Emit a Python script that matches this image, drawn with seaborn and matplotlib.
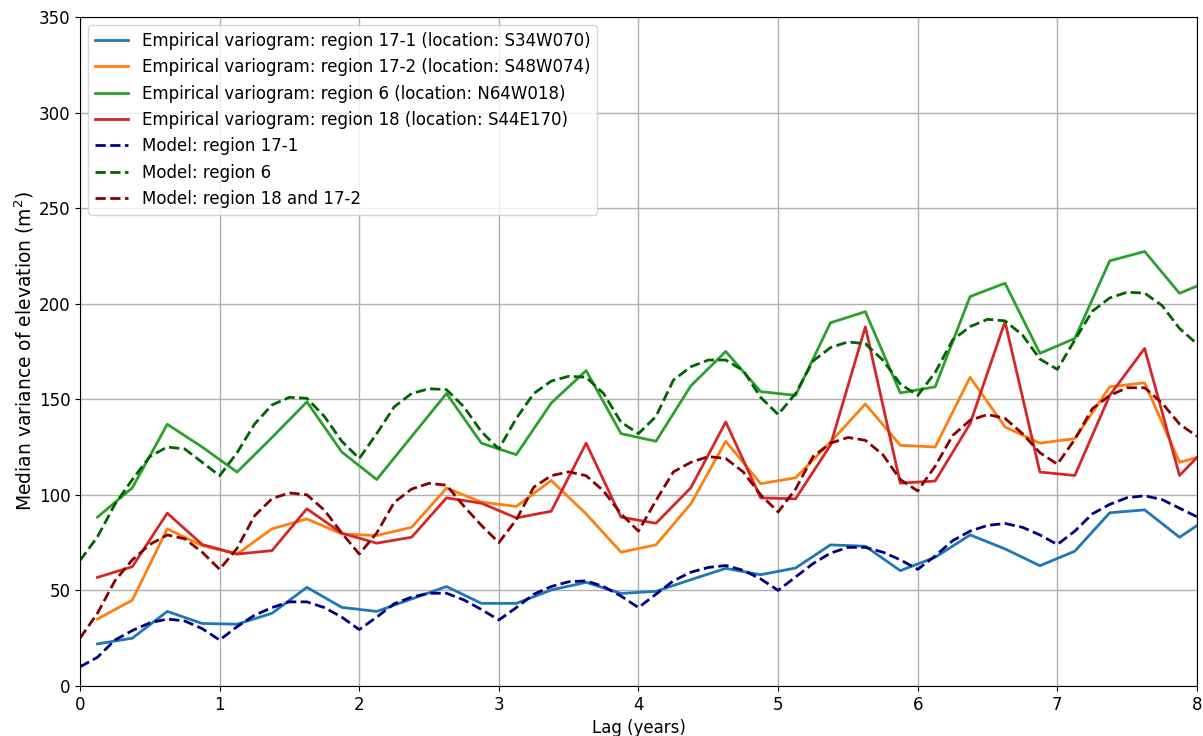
import matplotlib
matplotlib.use("Agg")
import matplotlib.pyplot as plt
import seaborn as sns
import numpy as np

# empirical variograms, lag bins centred every quarter year
lag_emp = [0.125, 0.375, 0.625, 0.875, 1.125, 1.375, 1.625, 1.875, 2.125, 2.375, 2.625,
           2.875, 3.125, 3.375, 3.625, 3.875, 4.125, 4.375, 4.625, 4.875, 5.125, 5.375,
           5.625, 5.875, 6.125, 6.375, 6.625, 6.875, 7.125, 7.375, 7.625, 7.875, 8.125]

emp_17_1 = [22, 25, 39, 32.7, 32.3, 38, 51.6, 41.1, 39, 45.5, 52, 43.2, 43.2, 50.2, 54.2,
            48.4, 49.5, 55.6, 61.5, 58.2, 61.7, 73.8, 73.1, 60.3, 67.3, 79, 71.7, 62.9,
            70.5, 90.6, 92.1, 77.8, 90]
emp_17_2 = [35, 44.9, 82.2, 73.4, 69, 82.2, 87.4, 79.5, 78.7, 83, 103.5, 96.2, 93.9, 107.5,
            90, 70, 73.8, 95.3, 128, 105.8, 108.9, 127.6, 147.5, 125.9, 125, 161.5, 135.5,
            127, 129.4, 156.5, 158.6, 117, 122]
emp_6 = [88.3, 103.7, 136.9, 125, 111.9, 130, 148.6, 122.4, 108, 130.5, 153, 127, 121,
         148, 165, 132, 128, 157, 175, 154, 152, 190, 195.8, 153.3, 156.5, 203.7, 210.7,
         174, 181.8, 222.4, 227.3, 205.4, 213]
emp_18 = [56.8, 62.4, 90.4, 74, 69, 70.8, 92.7, 79.9, 74.7, 77.8, 98.4, 95.6, 87.9, 91.4,
          127, 88.3, 85.1, 103.7, 138.1, 98.4, 97.9, 126, 187.9, 106.1, 107.2, 137.2, 190.6,
          111.9, 110.1, 152, 176.6, 110.1, 129]

# fitted models, read every eighth of a year
lag_mod = [i / 8 for i in range(65)]

mod_17_1 = [10, 15, 24, 29, 33, 35, 34, 30, 24,
            31, 37, 41, 44, 44, 41, 36, 29.5,
            36, 43, 46.5, 48.5, 48.5, 45, 40, 34.5,
            41, 48, 52, 54.5, 55, 52, 47, 41,
            48, 55, 59.5, 62, 63, 60.5, 56, 50,
            57, 64, 69.5, 72.5, 72.5, 70, 66, 61,
            68, 76, 81, 84, 85, 83, 79, 74,
            81, 90, 95, 98.5, 99.5, 97.5, 93, 88.5]
mod_6 = [65.6, 78, 95, 108, 120, 125, 124, 117, 110,
         122, 137, 147, 151, 150.5, 141, 128, 119,
         132, 146, 153, 155.5, 155, 146, 133, 124,
         140, 153, 159.5, 162, 161.5, 153, 138, 132,
         141, 160, 167, 170.5, 170.5, 165, 151, 142,
         153, 170, 177, 180, 179, 170.5, 158, 152,
         164, 181, 188, 191.8, 191, 183.6, 171, 165.6,
         181, 196, 203, 206, 205.5, 199, 187, 179]
mod_18_17_2 = [25, 38, 55, 66, 74, 79, 77, 70, 61,
               72, 89, 98, 101, 100, 92, 80, 69,
               80, 96, 103, 106, 105, 94, 84, 75,
               87, 104, 110, 112, 110, 102, 90, 81,
               97, 112, 117, 120, 119, 112, 100, 91,
               103, 120, 127, 130, 128.5, 121, 108, 102,
               115, 131, 139, 142, 140, 132, 122, 116,
               129, 145, 152, 156, 156, 148, 137, 130.6]

fig = plt.figure(figsize=(12.03, 7.36), dpi=100)
ax = fig.add_axes([0.0665, 0.068, 0.9285, 0.909])

lw = 2
sns.lineplot(x=lag_emp, y=emp_17_1, ax=ax, color="#1f77b4", lw=lw,
             label="Empirical variogram: region 17-1 (location: S34W070)")
sns.lineplot(x=lag_emp, y=emp_17_2, ax=ax, color="#ff7f0e", lw=lw,
             label="Empirical variogram: region 17-2 (location: S48W074)")
sns.lineplot(x=lag_emp, y=emp_6, ax=ax, color="#2ca02c", lw=lw,
             label="Empirical variogram: region 6 (location: N64W018)")
sns.lineplot(x=lag_emp, y=emp_18, ax=ax, color="#d62728", lw=lw,
             label="Empirical variogram: region 18 (location: S44E170)")
sns.lineplot(x=lag_mod, y=mod_17_1, ax=ax, color="navy", lw=lw, linestyle="--",
             label="Model: region 17-1")
sns.lineplot(x=lag_mod, y=mod_6, ax=ax, color="darkgreen", lw=lw, linestyle="--",
             label="Model: region 6")
sns.lineplot(x=lag_mod, y=mod_18_17_2, ax=ax, color="darkred", lw=lw, linestyle="--",
             label="Model: region 18 and 17-2")

ax.set_xlim(0, 8)
ax.set_ylim(0, 350)
ax.set_xticks(np.arange(0, 9, 1))
ax.set_yticks(np.arange(0, 351, 50))
ax.grid(True, color="#b0b0b0", lw=1)
ax.tick_params(labelsize=12)
ax.set_xlabel("Lag (years)", fontsize=12)
ax.set_ylabel("Median variance of elevation (m$^2$)", fontsize=13.5, labelpad=2)
ax.legend(loc="upper left", fontsize=12)

fig.savefig("out.png", dpi=100)
